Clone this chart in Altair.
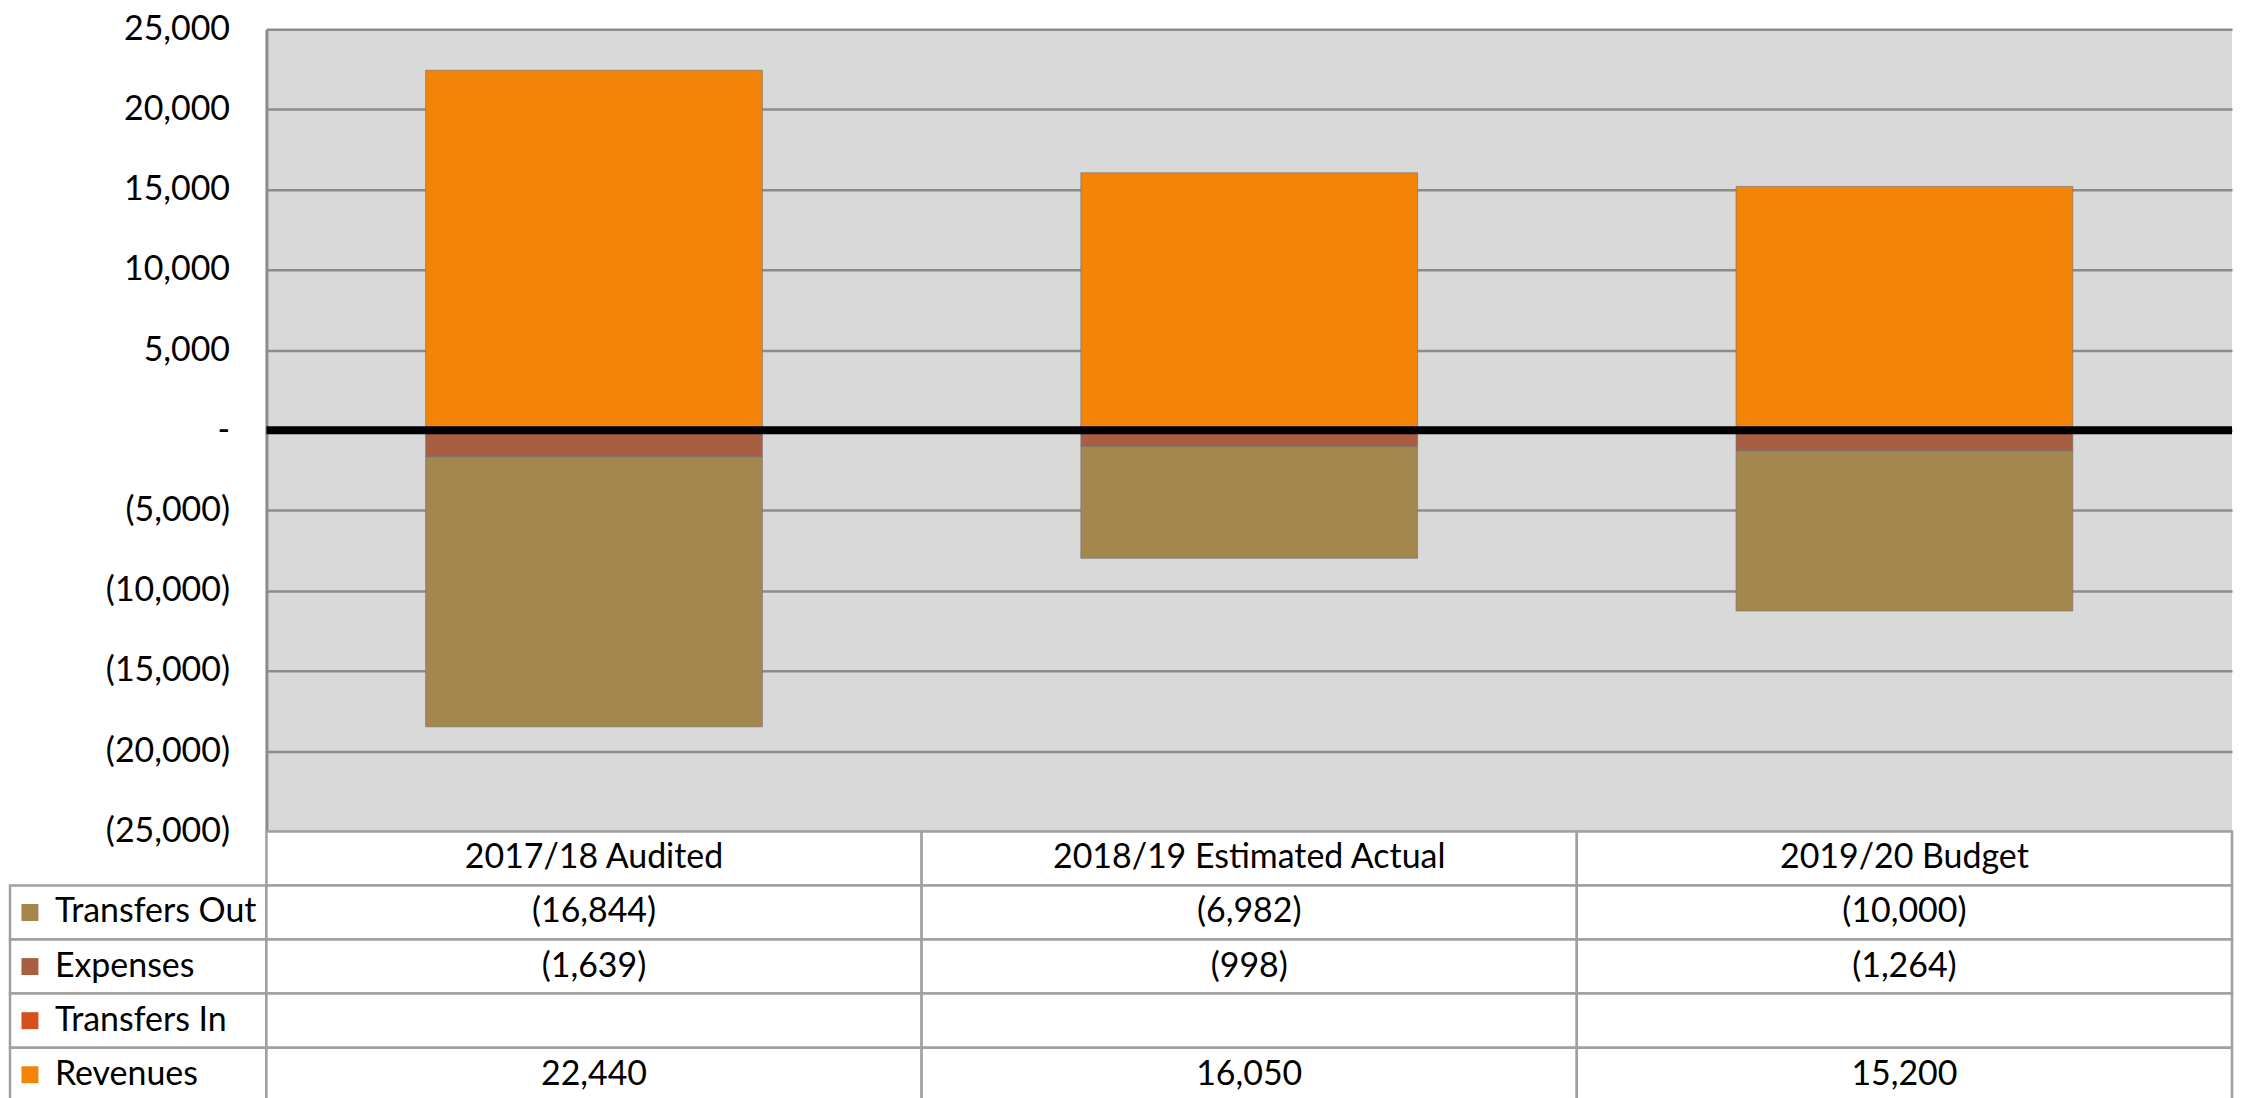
import altair as alt
import pandas as pd

categories = ["2017/18 Audited", "2018/19 Estimated Actual", "2019/20 Budget"]
series = ["Transfers Out", "Expenses", "Transfers In", "Revenues"]
transfers_out = [-16844, -6982, -10000]
expenses = [-1639, -998, -1264]
transfers_in = [None, None, None]
revenues = [22440, 16050, 15200]
colors = ["#A3874F", "#A85E42", "#D4511E", "#F28507"]
stack_rank = [2, 0, 1, 0]
y_ticks = [-25000, -20000, -15000, -10000, -5000, 0, 5000, 10000, 15000, 20000, 25000]

values_by_series = [transfers_out, expenses, transfers_in, revenues]
rows = []
for si, s in enumerate(series):
    for ci, c in enumerate(categories):
        rows.append({"category": c, "series": s, "value": values_by_series[si][ci], "ord": stack_rank[si]})
df = pd.DataFrame(rows)
bar_df = df.dropna(subset=["value"])

PLOT_W = 1970
PLOT_H = 804
LEG_W = 257
ROW_H = 54.2
TAB_H = ROW_H * 5
GRID = "#8c8c8c"
TAB_LINE = "#a0a0a0"
FONT = "Lato"
TAB_FS = 34

color_scale = alt.Scale(domain=series, range=colors)
y_scale = alt.Scale(domain=[-25000, 25000], nice=False, zero=False)

label_expr = ("datum.value == 0 ? '-\u00a0\u00a0\u00a0' : (datum.value < 0 ? '(' + format(-datum.value, ',') + ')' "
              ": format(datum.value, ',') + '\u00a0')")

# axis column (labels drawn inside its own width)
axis_col = alt.Chart(pd.DataFrame({"v": y_ticks})).mark_point(opacity=0).encode(
    y=alt.Y("v:Q", scale=y_scale,
            axis=alt.Axis(values=y_ticks, labelExpr=label_expr, title=None, grid=False, ticks=False,
                          domain=False, labelFont=FONT, labelFontSize=34, labelColor="black",
                          labelPadding=-220, minExtent=0, maxExtent=0))
).properties(width=LEG_W, height=PLOT_H, view=alt.ViewBackground(stroke=None))

bars = alt.Chart(bar_df).mark_bar(stroke="#6f6f6f", strokeWidth=1, strokeOpacity=0.6).encode(
    x=alt.X("category:N", sort=categories,
            scale=alt.Scale(domain=categories, paddingInner=0.486, paddingOuter=0.243), axis=None),
    y=alt.Y("value:Q", stack="zero", scale=y_scale,
            axis=alt.Axis(values=y_ticks, labels=False, title=None, grid=True,
                          gridColor=GRID, gridWidth=2.5, gridOpacity=1, ticks=False,
                          domainColor=GRID, domainWidth=3, minExtent=0, maxExtent=0)),
    color=alt.Color("series:N", scale=color_scale, legend=None),
    order=alt.Order("ord:Q"),
)

zero_line = alt.Chart(pd.DataFrame({"z": [0]})).mark_rule(color="black", strokeWidth=8).encode(
    y=alt.Y("z:Q", scale=y_scale)
)

plot = alt.layer(bars, zero_line).properties(
    width=PLOT_W, height=PLOT_H, view=alt.ViewBackground(fill="#D9D9D9", stroke=None)
)

row_domain = [" "] + series
row_scale = alt.Scale(domain=row_domain, paddingInner=0, paddingOuter=0)

leg_df = pd.DataFrame({"series": series})
leg_rect = alt.Chart(leg_df).mark_rect(fill="white", stroke=TAB_LINE, strokeWidth=2.5).encode(
    y=alt.Y("series:N", scale=row_scale, axis=None)
)
leg_sym = alt.Chart(leg_df).mark_square(opacity=0).encode(
    y=alt.Y("series:N", scale=row_scale, axis=None),
    color=alt.Color("series:N", scale=color_scale,
                    legend=alt.Legend(orient="none", legendX=3, legendY=ROW_H * 1.5 - TAB_FS / 2,
                                      title=None, symbolType="square", symbolSize=289, symbolOpacity=1,
                                      symbolStrokeWidth=0, labelFont=FONT, labelFontSize=TAB_FS,
                                      labelColor="black", labelOffset=8, rowPadding=ROW_H - TAB_FS,
                                      padding=0, labelLimit=400)),
)
legend_col = alt.layer(leg_rect, leg_sym).properties(
    width=LEG_W, height=TAB_H, view=alt.ViewBackground(stroke=None)
)

tab_rows = []
for c in categories:
    tab_rows.append({"category": c, "row": " ", "value": None, "label": c})
for r in rows:
    tab_rows.append({"category": r["category"], "row": r["series"], "value": r["value"], "label": None})
tab_df = pd.DataFrame(tab_rows)

fmt = ("datum.label != null ? datum.label : (datum.value == null || !isFinite(datum.value) ? '' : "
       "(datum.value < 0 ? '(' + format(-datum.value, ',') + ')' : format(datum.value, ',')))")

tab_base = alt.Chart(tab_df).transform_calculate(txt=fmt).encode(
    x=alt.X("category:N", sort=categories,
            scale=alt.Scale(domain=categories, paddingInner=0, paddingOuter=0), axis=None),
    y=alt.Y("row:N", scale=row_scale, axis=None),
)
tab_rect = tab_base.mark_rect(fill="white", stroke=TAB_LINE, strokeWidth=2.5)
tab_text = tab_base.mark_text(font=FONT, fontSize=TAB_FS, color="black", baseline="middle").encode(
    text="txt:N"
)
values_table = alt.layer(tab_rect, tab_text).properties(
    width=PLOT_W, height=TAB_H, view=alt.ViewBackground(stroke=None)
)

chart = alt.concat(axis_col, plot, legend_col, values_table, columns=2, spacing=0, bounds="flush").resolve_scale(
    color="independent", x="independent", y="independent"
).resolve_legend(color="independent").properties(
    padding={"top": 3, "left": 0, "right": 0, "bottom": 0}
).configure(font=FONT)

chart.save("out.html", embed_options={"renderer": "svg", "actions": False})
